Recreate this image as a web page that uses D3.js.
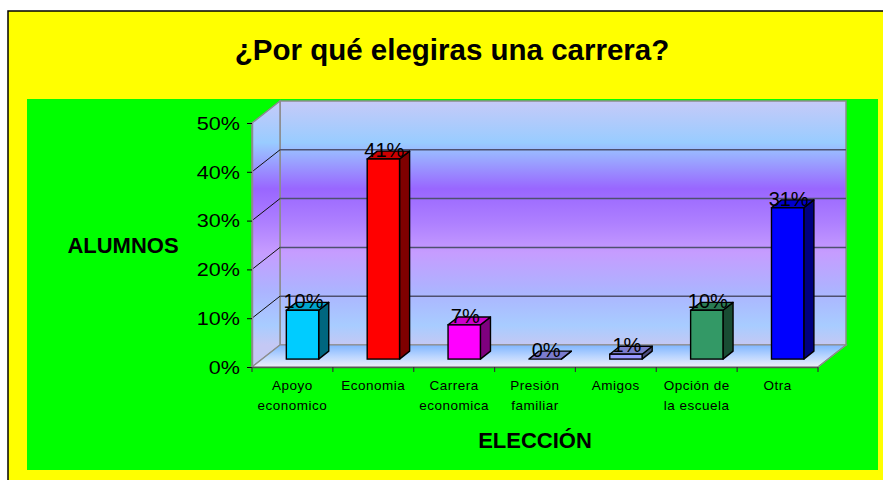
<!DOCTYPE html>
<html>
<head>
<meta charset="utf-8">
<script src="https://cdn.jsdelivr.net/npm/d3@7"></script>
<style>
  html, body { margin: 0; padding: 0; background: #fff; }
  svg { display: block; font-family: "Liberation Sans", Arial, sans-serif; }
</style>
</head>
<body>
<div id="chart"></div>
<script>
// chart values
const categories = ["Apoyo economico", "Economia", "Carrera economica", "Presión familiar", "Amigos", "Opción de la escuela", "Otra"];
const categoryLines = [["Apoyo", "economico"], ["Economia"], ["Carrera", "economica"], ["Presión", "familiar"], ["Amigos"], ["Opción de", "la escuela"], ["Otra"]];
const values = [10, 41, 7, 0, 1, 10, 31];
const yTicks = [0, 10, 20, 30, 40, 50];
const barColors = ["#00CCFF", "#FF0000", "#FF00FF", "#9999FF", "#9999FF", "#339966", "#0000FF"];

const titleText = "¿Por qué elegiras una carrera?";
const yTitle = "ALUMNOS";
const xTitle = "ELECCIÓN";

const W = 883, H = 480;
// 3d depth offset of the plot box
const depth = { dx: 28, dy: -22 };
const barDepth = { front: 0.36, back: 0.72 };

const svg = d3.select("#chart").append("svg")
  .attr("width", W).attr("height", H);

const defs = svg.append("defs");

// back/side wall gradient
const wallGrad = defs.append("linearGradient")
  .attr("id", "wall").attr("gradientUnits", "userSpaceOnUse")
  .attr("x1", 0).attr("x2", 0).attr("y1", 101).attr("y2", 345);
[[0, "#C6CAF8"], [0.17, "#99CCFF"], [0.24, "#9AA6FF"], [0.36, "#9966FF"], [0.5, "#AE80FF"], [0.62, "#C69CFF"], [0.78, "#ACB4FF"], [0.92, "#A8CCFF"], [1, "#C4C8F4"]]
  .forEach(s => wallGrad.append("stop").attr("offset", s[0]).attr("stop-color", s[1]));

const floorGrad = defs.append("linearGradient")
  .attr("id", "floor").attr("gradientUnits", "userSpaceOnUse")
  .attr("x1", 0).attr("x2", 0).attr("y1", 345).attr("y2", 367);
[[0, "#80B6FF"], [0.5, "#B8D4FF"], [1, "#EEEEF8"]]
  .forEach(s => floorGrad.append("stop").attr("offset", s[0]).attr("stop-color", s[1]));

// outer frame and plot background
svg.append("rect")
  .attr("x", 8).attr("y", 11).attr("width", W).attr("height", H)
  .attr("fill", "#FFFF00").attr("stroke", "#000").attr("stroke-width", 1.5);

svg.append("rect")
  .attr("x", 27).attr("y", 99).attr("width", 851).attr("height", 371)
  .attr("fill", "#00FF00");

svg.append("text")
  .attr("x", 452).attr("y", 60)
  .attr("text-anchor", "middle")
  .style("font-size", "29.5px").style("font-weight", "bold")
  .text(titleText);

// scales
const x = d3.scaleBand().domain(categories).range([252, 818]).padding(0);
const y = d3.scaleLinear().domain([0, 50]).range([367, 123]);

const x0 = x.range()[0], x1 = x.range()[1];
const yTop = y(50), yBot = y(0);

// walls
const plot = svg.append("g");
plot.append("rect")
  .attr("x", x0 + depth.dx).attr("y", yTop + depth.dy)
  .attr("width", x1 - x0).attr("height", yBot - yTop)
  .attr("fill", "url(#wall)").attr("stroke", "#8C8C8C").attr("stroke-width", 1.5);

plot.append("path")
  .attr("d", `M${x0},${yBot}L${x0},${yTop}L${x0 + depth.dx},${yTop + depth.dy}L${x0 + depth.dx},${yBot + depth.dy}Z`)
  .attr("fill", "url(#wall)").attr("stroke", "#8C8C8C").attr("stroke-width", 1.5);

plot.append("path")
  .attr("d", `M${x0},${yBot}L${x0 + depth.dx},${yBot + depth.dy}L${x1 + depth.dx},${yBot + depth.dy}L${x1},${yBot}Z`)
  .attr("fill", "url(#floor)").attr("stroke", "#8C8C8C").attr("stroke-width", 1.2);

// gridlines on back wall and side wall
const gridVals = yTicks.filter(t => t > 0 && t < 50);
plot.selectAll(".grid").data(gridVals).enter().append("line")
  .attr("class", "grid")
  .attr("x1", x0 + depth.dx).attr("x2", x1 + depth.dx)
  .attr("y1", d => y(d) + depth.dy).attr("y2", d => y(d) + depth.dy)
  .attr("stroke", "#4E5070").attr("stroke-width", 1.5);

plot.selectAll(".sidegrid").data(gridVals).enter().append("line")
  .attr("class", "sidegrid")
  .attr("x1", x0).attr("x2", x0 + depth.dx)
  .attr("y1", d => y(d)).attr("y2", d => y(d) + depth.dy)
  .attr("stroke", "#111").attr("stroke-width", 1);

// y axis
const yAxis = svg.append("g")
  .attr("transform", `translate(${x0},0)`)
  .call(d3.axisLeft(y).tickValues(yTicks).tickSize(5).tickFormat(d => d + "%"));
yAxis.select(".domain").attr("stroke", "#8C8C8C").attr("stroke-width", 1.5);
yAxis.selectAll(".tick line").attr("stroke", "#000");
yAxis.selectAll(".tick text")
  .attr("x", -12).attr("dy", "0.35em")
  .attr("fill", "#000")
  .style("font-size", "18px")
  .style("font-family", "'Liberation Sans', Arial, sans-serif")
  .attr("transform", "scale(1.2,1) translate(2,0)");

// x axis: front floor edge plus ticks between categories
const xAxis = svg.append("g")
  .attr("transform", `translate(0,${yBot})`)
  .call(d3.axisBottom(x).tickSize(0).tickFormat(""));
xAxis.select(".domain").attr("stroke", "#555").attr("stroke-width", 1.5);
xAxis.selectAll(".tick").remove();
xAxis.selectAll(".sep").data(categories.concat(["end"])).enter().append("line")
  .attr("class", "sep")
  .attr("x1", (d, i) => x0 + i * x.bandwidth()).attr("x2", (d, i) => x0 + i * x.bandwidth())
  .attr("y1", 0).attr("y2", 5)
  .attr("stroke", "#333").attr("stroke-width", 1.2);

// floor right edge
svg.append("line")
  .attr("x1", x1).attr("y1", yBot).attr("x2", x1 + depth.dx).attr("y2", yBot + depth.dy)
  .attr("stroke", "#8C8C8C").attr("stroke-width", 1.2);

// category labels
const catG = svg.append("g");
categoryLines.forEach((lines, i) => {
  const t = catG.append("text")
    .attr("text-anchor", "middle")
    .style("font-size", "13.5px")
    .style("letter-spacing", "0.5px")
    .attr("fill", "#000");
  lines.forEach((ln, j) => {
    t.append("tspan")
      .attr("x", x(categories[i]) + x.bandwidth() / 2)
      .attr("y", 390 + j * 19.5)
      .text(ln);
  });
});

// 3d bars
const barW = x.bandwidth() * 0.4;
const fdx = barDepth.front * depth.dx, fdy = barDepth.front * depth.dy;
const bdx = (barDepth.back - barDepth.front) * depth.dx;
const bdy = (barDepth.back - barDepth.front) * depth.dy;

const bars = svg.append("g").selectAll("g")
  .data(values.map((v, i) => ({ cat: categories[i], v: v, color: barColors[i] })))
  .enter().append("g");

bars.each(function (d) {
  const g = d3.select(this);
  const left = x(d.cat) + x.bandwidth() / 2 - barW / 2 + fdx;
  const right = left + barW;
  const top = y(d.v) + fdy;
  const bottom = y(0) + fdy;
  const base = d3.color(d.color);
  // side face
  g.append("path")
    .attr("d", `M${right},${bottom}L${right},${top}L${right + bdx},${top + bdy}L${right + bdx},${bottom + bdy}Z`)
    .attr("fill", base.darker(1.95)).attr("stroke", "#000").attr("stroke-width", 1.4)
    .attr("stroke-linejoin", "round");
  // top face
  g.append("path")
    .attr("d", `M${left},${top}L${right},${top}L${right + bdx},${top + bdy}L${left + bdx},${top + bdy}Z`)
    .attr("fill", base.darker(0.62)).attr("stroke", "#000").attr("stroke-width", 1.4)
    .attr("stroke-linejoin", "round");
  // front face
  g.append("rect")
    .attr("x", left).attr("y", top)
    .attr("width", barW).attr("height", bottom - top)
    .attr("fill", d.color).attr("stroke", "#000").attr("stroke-width", 1.4);
});

// value labels
svg.append("g").selectAll("text")
  .data(values.map((v, i) => ({ cat: categories[i], v: v })))
  .enter().append("text")
  .attr("x", d => x(d.cat) + x.bandwidth() / 2 + fdx + 1)
  .attr("y", d => y(d.v) + fdy - 2)
  .attr("text-anchor", "middle")
  .style("font-size", "20px")
  .attr("fill", "#000")
  .text(d => d.v + "%");

// axis titles
svg.append("text")
  .attr("x", 123).attr("y", 253)
  .attr("text-anchor", "middle")
  .style("font-size", "22px").style("font-weight", "bold")
  .text(yTitle);

svg.append("text")
  .attr("x", 535).attr("y", 448)
  .attr("text-anchor", "middle")
  .style("font-size", "22px").style("font-weight", "bold")
  .text(xTitle);
</script>
</body>
</html>
